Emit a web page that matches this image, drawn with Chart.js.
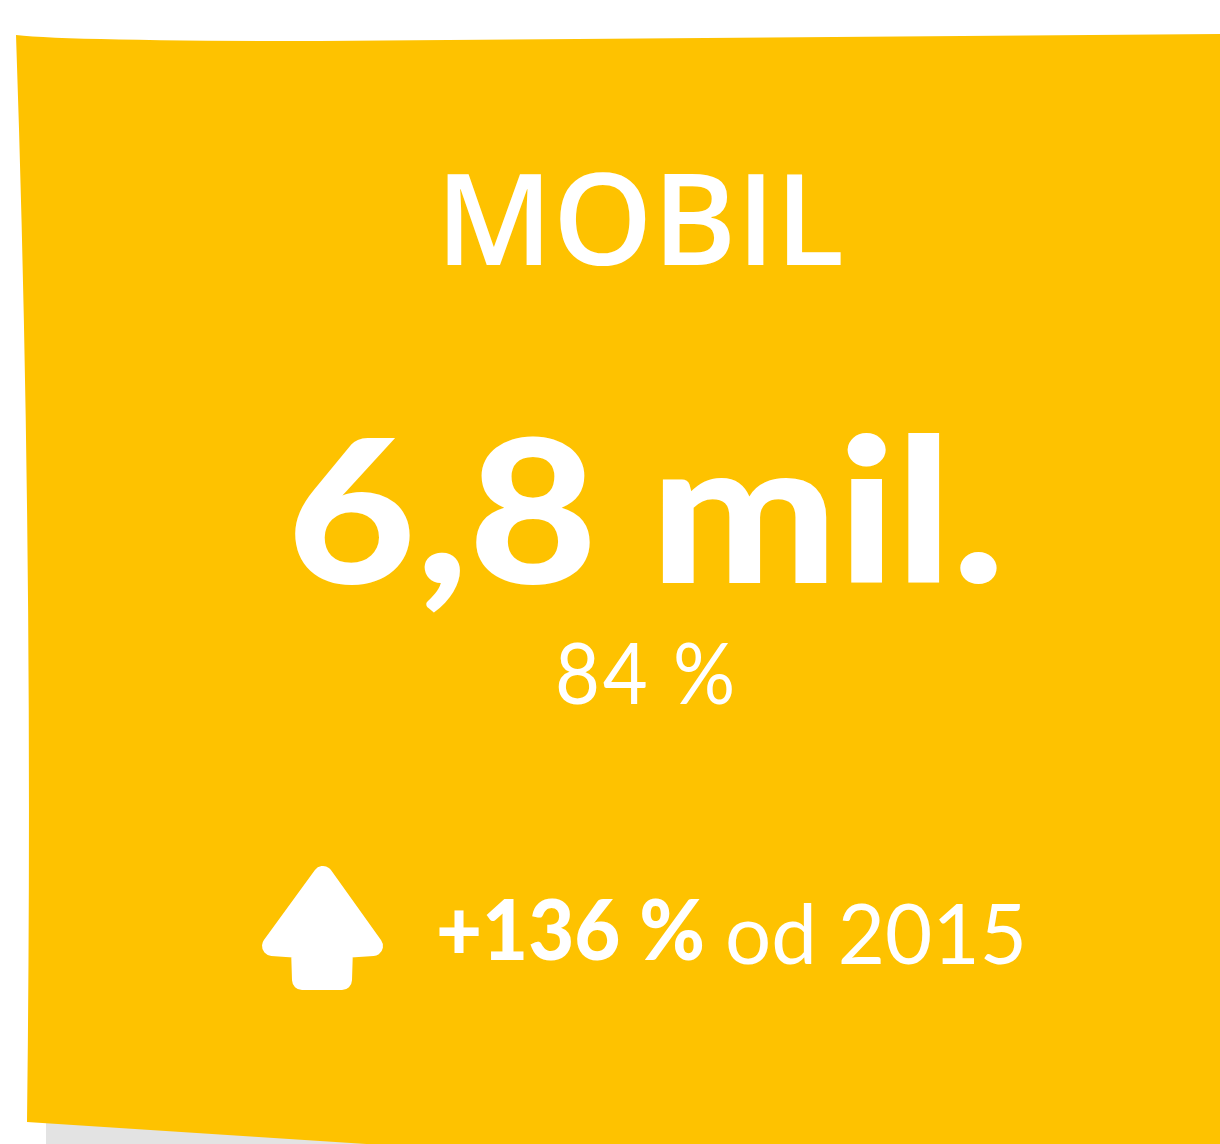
<!DOCTYPE html>
<html>
<head>
<meta charset="utf-8">
<script src="https://cdn.jsdelivr.net/npm/chart.js@4/dist/chart.umd.min.js"></script>
<style>
  html, body { margin: 0; padding: 0; background: #ffffff; }
  #card { display: block; }
</style>
</head>
<body>
<canvas id="card" width="1220" height="1144"></canvas>
<script>
// card values
const categories = ["MOBIL"];
const values = [6.8];
const valueUnits = ["mil."];
const shares = [84];
const changes = [136];
const baseYears = [2015];

const yellow = "#fec200";
const shadowGrey = "#e3e3e3";
const white = "#ffffff";

function fmt(n) {
  return String(n).replace(".", ",");
}

// draws text squeezed/stretched so it spans exactly `width` px
function fitText(ctx, text, x, y, width, font) {
  ctx.font = font;
  const w = ctx.measureText(text).width;
  ctx.save();
  ctx.translate(x, y);
  ctx.scale(width / w, 1);
  ctx.textAlign = "left";
  ctx.fillText(text, 0, 0);
  ctx.restore();
}

const cardPlugin = {
  id: "cardPlugin",
  beforeDraw(chart) {
    const ctx = chart.ctx;
    ctx.save();

    // shadow under the card
    ctx.fillStyle = shadowGrey;
    ctx.fillRect(46, 1110, 1200, 40);

    // the sticky note
    ctx.fillStyle = yellow;
    ctx.beginPath();
    ctx.moveTo(16, 35);
    ctx.quadraticCurveTo(70, 41, 320, 41);
    ctx.lineTo(1230, 34);
    ctx.lineTo(1230, 1200);
    ctx.lineTo(27, 1122);
    ctx.quadraticCurveTo(34, 560, 16, 35);
    ctx.closePath();
    ctx.fill();
    ctx.restore();
  },
  afterDraw(chart) {
    const ctx = chart.ctx;
    const i = 0;
    ctx.save();
    ctx.fillStyle = white;
    ctx.textBaseline = "alphabetic";

    // title
    ctx.textAlign = "center";
    ctx.font = "600 127px 'Open Sans'";
    ctx.fillText(categories[i], 640, 265);

    // main value
    const big = `${fmt(values[i])} ${valueUnits[i]}`;
    fitText(ctx, big, 287, 583, 718, "900 200px Lato");

    // share
    ctx.letterSpacing = "3px";
    fitText(ctx, `${shares[i]} %`, 555, 704, 183, "400 86px Lato");
    ctx.letterSpacing = "0px";

    // arrow
    ctx.beginPath();
    ctx.moveTo(323, 876);
    ctx.lineTo(373, 946);
    ctx.lineTo(343, 948);
    ctx.lineTo(342, 980);
    ctx.lineTo(302, 980);
    ctx.lineTo(301, 948);
    ctx.lineTo(272, 946);
    ctx.closePath();
    ctx.lineJoin = "round";
    ctx.lineWidth = 20;
    ctx.strokeStyle = white;
    ctx.stroke();
    ctx.fill();

    // change line
    fitText(ctx, `+${changes[i]} %`, 436, 960, 269, "900 84px Lato");
    fitText(ctx, `od ${baseYears[i]}`, 725, 964, 302, "400 84px Lato");

    ctx.restore();
  }
};

new Chart(document.getElementById("card").getContext("2d"), {
  type: "scatter",
  data: { datasets: [] },
  options: {
    responsive: false,
    animation: false,
    layout: { padding: 0 },
    plugins: { legend: { display: false }, tooltip: { enabled: false } },
    scales: { x: { display: false }, y: { display: false } }
  },
  plugins: [cardPlugin]
});
</script>
</body>
</html>
